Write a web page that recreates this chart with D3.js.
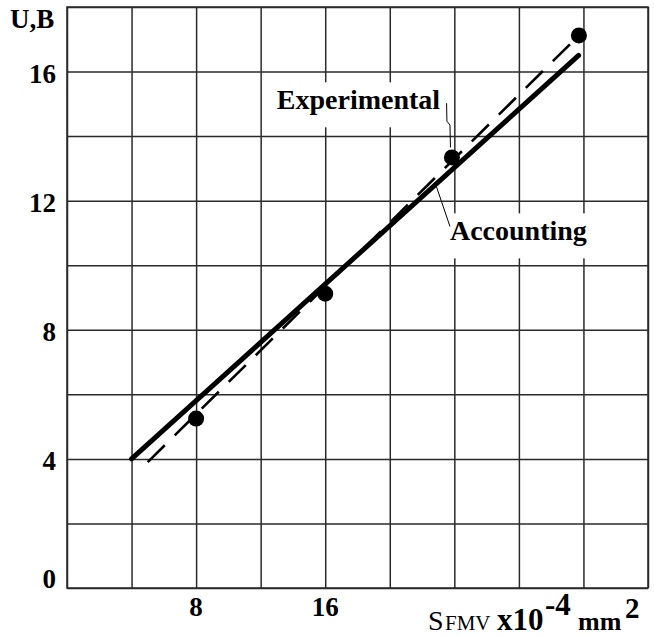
<!DOCTYPE html>
<html>
<head>
<meta charset="utf-8">
<script src="https://cdn.jsdelivr.net/npm/d3@7"></script>
<style>
  body { margin: 0; background: #fff; }
  text { font-family: "Liberation Serif", "Times New Roman", serif; fill: #000; }
</style>
</head>
<body>
<div id="chart"></div>
<script>
// measured points (S, U)
const xValues = [8, 16, 23.85, 31.72];
const yValues = [5.25, 9.12, 13.34, 17.12];

// calculated ("Accounting") line, start/end
const accountingX = [4, 31.7];
const accountingY = [4, 16.5];

// experimental fit line (dashed), start/end
const experimentalX = [5, 31.72];
const experimentalY = [3.9, 17.12];

// grid and tick labels
const xGrid = [0, 4, 8, 12, 16, 20, 24, 28, 32, 36];
const yGrid = [0, 2, 4, 6, 8, 10, 12, 14, 16, 18];
const xTickLabels = [8, 16];
const yTickLabels = [0, 4, 8, 12, 16];

const width = 654, height = 636;
const margin = { top: 7, left: 67 };
const w = 581, h = 581;

const svg = d3.select('#chart')
  .append('svg')
  .attr('width', width)
  .attr('height', height);

const g = svg.append('g')
  .attr('transform', `translate(${margin.left},${margin.top})`);

const x = d3.scaleLinear().domain([0, 36]).range([0, w]);
const y = d3.scaleLinear().domain([0, 18]).range([h, 0]);

// grid lines
const gx = g.append('g')
  .attr('transform', `translate(0,${h})`)
  .call(d3.axisBottom(x).tickValues(xGrid).tickSize(-h).tickFormat(''));
const gy = g.append('g')
  .call(d3.axisLeft(y).tickValues(yGrid).tickSize(-w).tickFormat(''));
[gx, gy].forEach(a => {
  a.select('.domain').remove();
  a.selectAll('line').attr('stroke', '#2a2a2a').attr('stroke-width', 1.5);
});
g.append('rect')
  .attr('width', w).attr('height', h)
  .attr('fill', 'none').attr('stroke', '#2a2a2a').attr('stroke-width', 1.5);

// tick labels
g.selectAll('.ylab')
  .data(yTickLabels)
  .join('text')
  .attr('x', -11)
  .attr('y', d => y(d) + (d === 0 ? 0 : 11))
  .attr('text-anchor', 'end')
  .style('font-size', '27px')
  .style('font-weight', 'bold')
  .text(d => d);

g.selectAll('.xlab')
  .data(xTickLabels)
  .join('text')
  .attr('x', d => x(d))
  .attr('y', h + 28)
  .attr('text-anchor', 'middle')
  .style('font-size', '27px')
  .style('font-weight', 'bold')
  .text(d => d);

// axis titles
svg.append('text')
  .attr('x', 10).attr('y', 28)
  .style('font-size', '27px').style('font-weight', 'bold')
  .text('U,B');

const xt = svg.append('g');
xt.append('text').attr('x', 428).attr('y', 630).style('font-size', '28px').text('S');
xt.append('text').attr('x', 445).attr('y', 630).style('font-size', '21px').text('FMV');
xt.append('text').attr('x', 497).attr('y', 630).style('font-size', '31px').style('font-weight', 'bold').text('x10');
xt.append('text').attr('x', 545).attr('y', 615).style('font-size', '31px').style('font-weight', 'bold').text('-4');
xt.append('text').attr('x', 578).attr('y', 630).style('font-size', '26px').style('font-weight', 'bold').text('mm');
xt.append('text').attr('x', 625).attr('y', 618).style('font-size', '29px').style('font-weight', 'bold').text('2');

// annotation labels with white backing boxes
const labels = [
  { text: 'Experimental', x: 13.0, y: 14.83 },
  { text: 'Accounting', x: 23.73, y: 10.77 }
];
const boxLayer = g.append('g');
const lineLayer = g.append('g');
const labelLayer = g.append('g');

labels.forEach(l => {
  const t = labelLayer.append('text')
    .attr('x', x(l.x)).attr('y', y(l.y))
    .style('font-size', '28px').style('font-weight', 'bold')
    .text(l.text);
  const b = t.node().getBBox();
  boxLayer.append('rect')
    .attr('x', b.x - 12).attr('y', b.y - 2)
    .attr('width', b.width + 18).attr('height', b.height + 14)
    .attr('fill', '#fff');
});

// lines
const line = d3.line().x(d => x(d[0])).y(d => y(d[1]));

lineLayer.append('path')
  .datum(d3.zip(experimentalX, experimentalY))
  .attr('d', line)
  .attr('fill', 'none')
  .attr('stroke', '#000')
  .attr('stroke-width', 2.6)
  .attr('stroke-dasharray', '24,14');

lineLayer.append('path')
  .datum(d3.zip(accountingX, accountingY))
  .attr('d', line)
  .attr('fill', 'none')
  .attr('stroke', '#000')
  .attr('stroke-width', 5)
  .attr('stroke-linecap', 'round');

// measured points
lineLayer.selectAll('circle')
  .data(d3.zip(xValues, yValues))
  .join('circle')
  .attr('cx', d => x(d[0]))
  .attr('cy', d => y(d[1]))
  .attr('r', 8)
  .attr('fill', '#000');

// leader lines from labels to the curves
const leaders = [
  [[23.52, 15.02], [23.54, 14.46], [23.73, 14.34], [23.76, 13.65]],
  [[22.8, 12.57], [23.73, 11.2]]
];
lineLayer.selectAll('.leader')
  .data(leaders)
  .join('path')
  .attr('d', line)
  .attr('fill', 'none')
  .attr('stroke', '#000')
  .attr('stroke-width', 1);
</script>
</body>
</html>
